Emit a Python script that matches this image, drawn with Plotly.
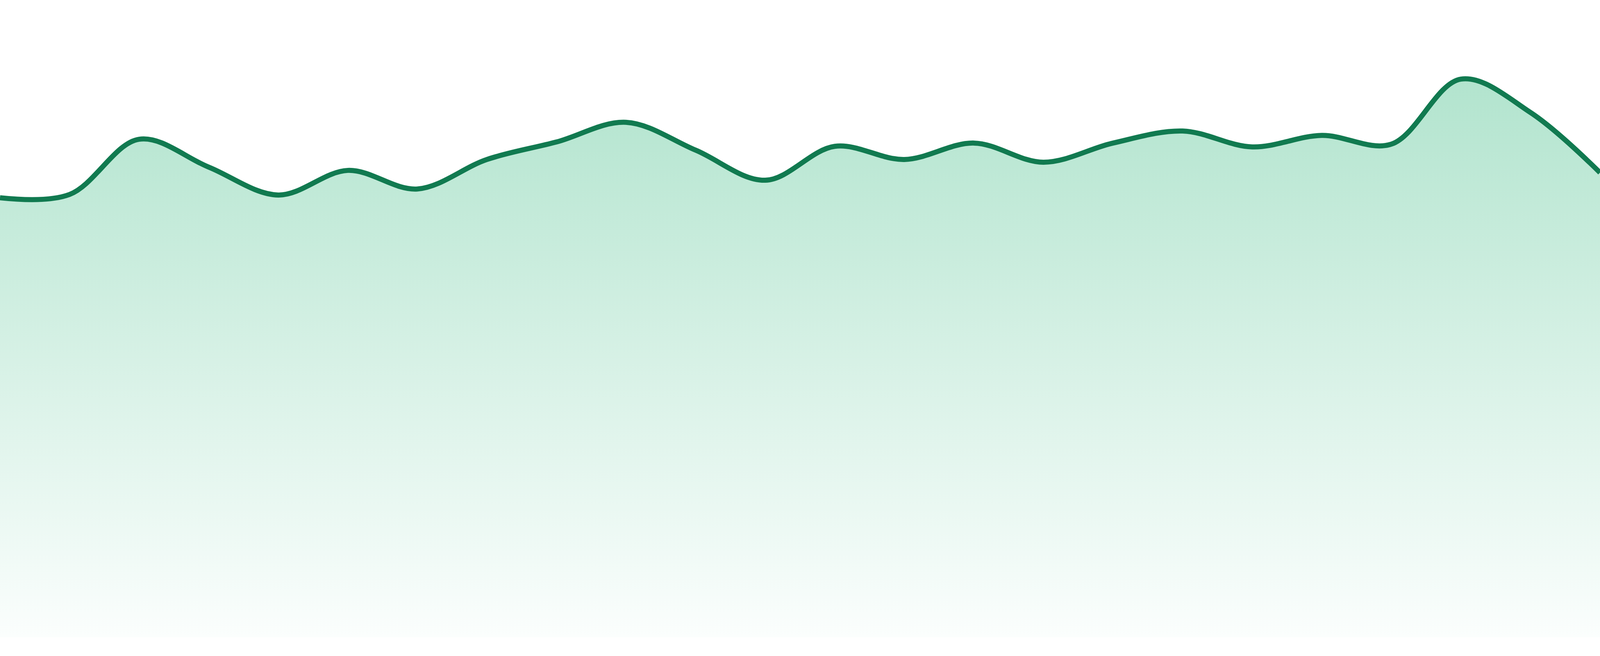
import plotly.graph_objects as go

# 24 evenly spaced samples, edge to edge
points = list(range(24))
values = [80.4, 81.0, 91.1, 86.0, 80.9, 85.4, 82.0, 87.4, 90.6, 94.2, 89.1, 83.6,
          89.8, 87.4, 90.4, 86.9, 90.4, 92.6, 89.7, 91.8, 90.2, 102.1, 96.0, 85.0]

fig = go.Figure()

fig.add_trace(go.Scatter(
    x=points,
    y=values,
    mode="lines",
    line=dict(color="#117a50", width=13, shape="spline", smoothing=1.0),
    fill="tozeroy",
    fillgradient=dict(
        type="vertical",
        start=0,
        stop=max(values),
        colorscale=[[0, "rgb(251,254,253)"], [1, "rgb(178,228,206)"]],
    ),
    hoverinfo="skip",
))

fig.update_layout(
    autosize=True,
    margin=dict(l=0, r=0, t=0, b=0),
    paper_bgcolor="white",
    plot_bgcolor="white",
    showlegend=False,
    xaxis=dict(visible=False, range=[0, 23], fixedrange=True),
    yaxis=dict(visible=False, range=[-3.43, 116.57], fixedrange=True),
)

# fill the whole window, no body margin
fit_js = (
    "document.body.style.margin='0';"
    "document.documentElement.style.overflow='hidden';"
    "Plotly.Plots.resize(document.getElementById('{plot_id}'));"
)

fig.write_html(
    "out.html",
    default_width="100%",
    default_height="100vh",
    config={"displayModeBar": False, "responsive": True},
    post_script=fit_js,
)
